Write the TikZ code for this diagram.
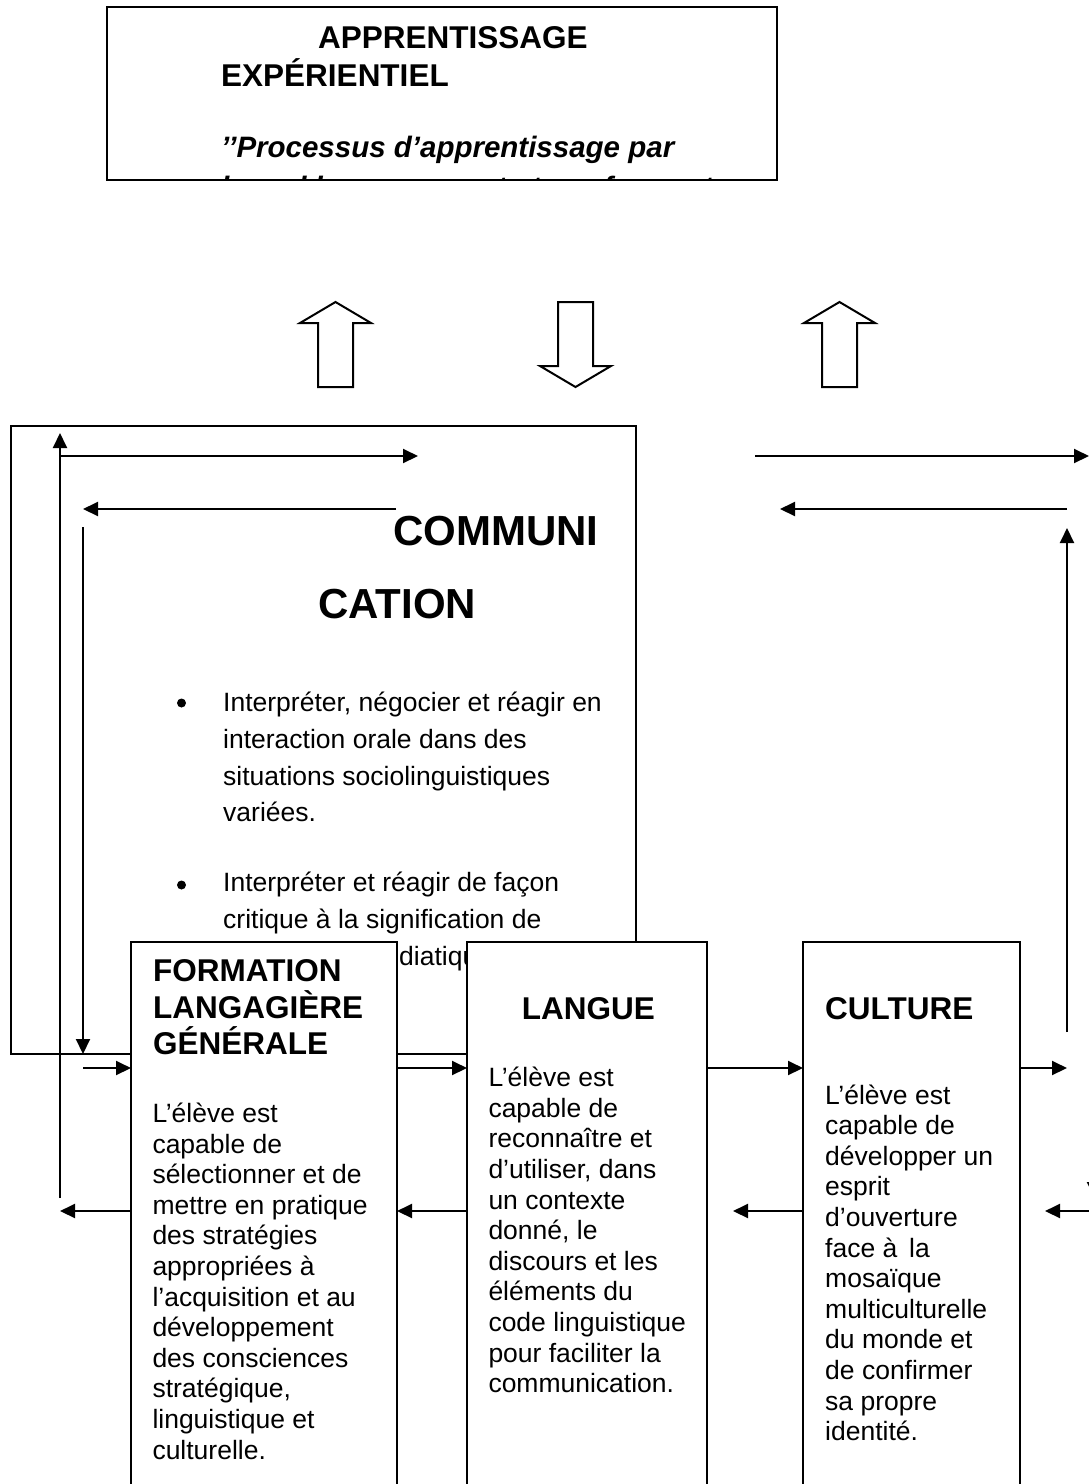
\documentclass[tikz,border=0pt]{standalone}
\usepackage{fontspec}
\setmainfont{Liberation Sans}
\usetikzlibrary{arrows.meta}
\newcommand\bodyfont{\fontsize{26.5}{30.6}\selectfont}
\newcommand\commfont{\fontsize{26.5}{36.67}\selectfont}
\newcommand\headfont{\fontsize{31.5}{36.6}\selectfont\bfseries}
\newcommand\bigfont{\fontsize{42}{48}\selectfont\bfseries}
\newcommand\quotefont{\fontsize{29.5}{36}\selectfont\bfseries\itshape}
\begin{document}
\begin{tikzpicture}[x=1pt,y=-1pt,
  frame/.style={draw, line width=2pt, fill=white, inner sep=0pt, outer sep=0pt, anchor=north west},
  txt/.style={anchor=base west, inner sep=0pt},
  link/.style={line width=2pt, -{Triangle[length=15pt,width=14pt]}},
  blockarrow/.style={draw, line width=2pt, line join=miter, fill=white}]
\useasboundingbox (0,0) rectangle (1089,1484);
\fill[white] (0,0) rectangle (1089,1484);

% ---------- top box ----------
\node[txt] (t1) at (318,48) {\headfont APPRENTISSAGE};
\node[txt] (t2) at (221,86) {\headfont EXPÉRIENTIEL};
\node[txt] (t3) at (221,157) {\quotefont ’’Processus d’apprentissage par};
\begin{scope}
  \clip (108,8) rectangle (776,179);
  \node[txt] (t4) at (221,197) {\quotefont lequel les apprenants transforment};
\end{scope}
\node[frame, fill=none, minimum width=670pt, minimum height=173pt] (top) at (107,7) {};

% ---------- block arrows ----------
\draw[blockarrow] (318,387) -- (318,323) -- (300,323) -- (335.5,302) -- (371,323) -- (353,323) -- (353,387) -- cycle;
\draw[blockarrow] (558,302) -- (558,366) -- (540,366) -- (575.5,387) -- (611,366) -- (593,366) -- (593,302) -- cycle;
\draw[blockarrow] (822,387) -- (822,323) -- (804,323) -- (839.5,302) -- (875,323) -- (857,323) -- (857,387) -- cycle;

% ---------- communication box ----------
\node[frame, fill=none, minimum width=625pt, minimum height=628pt] (comm) at (11,426) {};

\coordinate (c1a) at (60,1198);
\coordinate (c1b) at (60,433);
\draw[link] (c1a) -- (c1b);
\coordinate (c2a) at (60,456);
\coordinate (c2b) at (418,456);
\draw[link] (c2a) -- (c2b);
\coordinate (c3a) at (396,509);
\coordinate (c3b) at (83,509);
\draw[link] (c3a) -- (c3b);
\coordinate (c4a) at (83,527);
\draw[link] (c4a) -- (c4a |- comm.south);

\node[txt] (cw1) at (393,545) {\bigfont COMMUNI};
\node[txt] (cw2) at (318,618) {\bigfont CATION};
\fill (181.5,703) circle (4.5pt);
\node[txt] (b1) at (223,711.7) {\parbox[t]{420pt}{\commfont Interpréter, négocier et réagir en\\interaction orale dans des\\situations sociolinguistiques\\variées.}};
\fill (181.5,885) circle (4.5pt);
\node[txt] (b2) at (223,891.7) {\parbox[t]{420pt}{\commfont Interpréter et réagir de façon\\critique à la signification de}};
\node[txt] (b3) at (399,965) {\commfont diatiqu};

% ---------- lower boxes ----------
\node[frame, minimum width=266pt, minimum height=560pt] (form) at (131,942) {};
\node[frame, minimum width=240pt, minimum height=560pt] (lang) at (467,942) {};
\node[frame, minimum width=217pt, minimum height=560pt] (cult) at (803,942) {};

\node[txt] (fh) at (153,981.7) {\parbox[t]{240pt}{\headfont FORMATION\\LANGAGIÈRE\\GÉNÉRALE}};
\node[txt] (lh) at (521.7,1019) {\headfont LANGUE};
\node[txt] (ch) at (825,1019) {\headfont CULTURE};

\node[txt] (fb) at (152.3,1122.4) {\parbox[t]{300pt}{\bodyfont L’élève est\\capable de\\sélectionner et de\\mettre en pratique\\des stratégies\\appropriées à\\l’acquisition et au\\développement\\des consciences\\stratégique,\\linguistique et\\culturelle.}};
\node[txt] (lb) at (488.3,1086.7) {\parbox[t]{300pt}{\bodyfont L’élève est\\capable de\\reconnaître et\\d’utiliser, dans\\un contexte\\donné, le\\discours et les\\éléments du\\code linguistique\\pour faciliter la\\communication.}};
\node[txt] (cb) at (825,1104) {\parbox[t]{300pt}{\bodyfont L’élève est\\capable de\\développer un\\esprit\\d’ouverture\\face à\, la\\mosaïque\\multiculturelle\\du monde et\\de confirmer\\sa propre\\identité.}};

% ---------- connectors between boxes ----------
\coordinate (c5a) at (83,1068);
\draw[link] (c5a) -- (c5a -| form.west);
\coordinate (c6b) at (60,1211);
\draw[link] (c6b -| form.west) -- (c6b);
\draw[link] (form.east |- c5a) -- (lang.west |- c5a);
\draw[link] (lang.west |- c6b) -- (form.east |- c6b);
\draw[link] (lang.east |- c5a) -- (cult.west |- c5a);
\coordinate (m4b) at (733,1211);
\draw[link] (cult.west |- m4b) -- (m4b);
\coordinate (m5b) at (1067,1068);
\draw[link] (cult.east |- m5b) -- (m5b);
\coordinate (m6a) at (1100,1211);
\coordinate (m6b) at (1045,1211);
\draw[link] (m6a) -- (m6b);
\coordinate (va) at (1094,1150);
\coordinate (vb) at (1094,1197);
\draw[link] (va) -- (vb);

% ---------- right side ----------
\coordinate (r1a) at (755,456);
\coordinate (r1b) at (1089,456);
\draw[link] (r1a) -- (r1b);
\coordinate (r2a) at (1067,509);
\coordinate (r2b) at (780,509);
\draw[link] (r2a) -- (r2b);
\coordinate (r3a) at (1067,1032);
\coordinate (r3b) at (1067,528);
\draw[link] (r3a) -- (r3b);
\end{tikzpicture}
\end{document}
